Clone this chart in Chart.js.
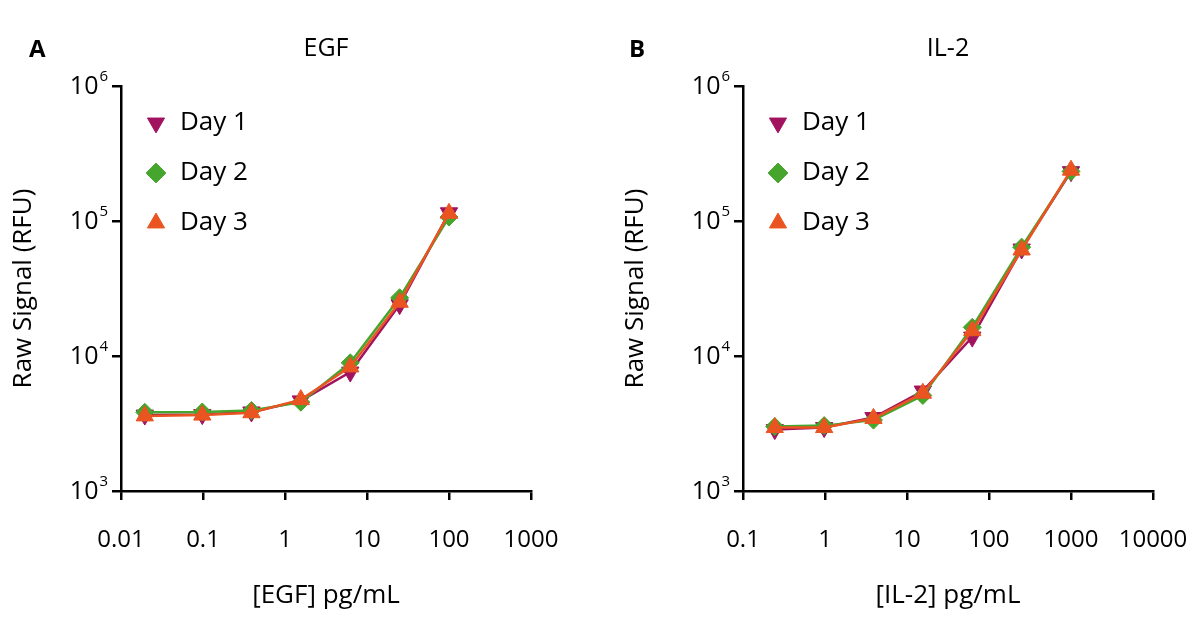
<!DOCTYPE html>
<html lang="en">
<head>
    <meta charset="UTF-8">
    <title>EGF / IL-2 standard curves</title>
    <script src="https://cdn.jsdelivr.net/npm/chart.js"></script>
    <style>
        body { margin: 0; background: #fff; font-family: "Open Sans", sans-serif; }
        .panel { position: absolute; top: 0; width: 600px; height: 642px; }
        .letter { position: absolute; top: 31px; font-weight: bold; font-size: 24px; color: #000; }
        .title { position: absolute; top: 29px; font-size: 25px; color: #000; transform: translateX(-50%); }
    </style>
</head>
<body>
    <div class="panel" style="left:0">
        <canvas id="chartA" width="600" height="642"></canvas>
        <div class="letter" style="left:29px">A</div>
        <div class="title" style="left:326px">EGF</div>
    </div>
    <div class="panel" style="left:600px">
        <canvas id="chartB" width="600" height="642"></canvas>
        <div class="letter" style="left:29px">B</div>
        <div class="title" style="left:348px">IL-2</div>
    </div>

    <script>
    // series labels and colours
    const dayLabels = ['Day 1', 'Day 2', 'Day 3'];
    const dayColors = ['#a1135f', '#46a52c', '#ea5421'];

    // panel A - EGF
    const egfConc = [0.0195, 0.098, 0.39, 1.56, 6.25, 25, 100];
    const egfDay1 = [3650, 3680, 3850, 4650, 7600, 24000, 115000];
    const egfDay2 = [3830, 3850, 3950, 4550, 8900, 27000, 107000];
    const egfDay3 = [3600, 3650, 3800, 4750, 8300, 25000, 114000];
    const egfXTicks = [0.01, 0.1, 1, 10, 100, 1000];

    // panel B - IL-2
    const il2Conc = [0.244, 0.977, 3.9, 15.6, 62.5, 250, 1000];
    const il2Day1 = [2850, 2950, 3500, 5500, 13800, 62000, 232000];
    const il2Day2 = [3000, 3050, 3350, 5100, 16300, 64000, 233000];
    const il2Day3 = [2950, 2950, 3450, 5300, 15400, 61000, 238000];
    const il2XTicks = [0.1, 1, 10, 100, 1000, 10000];

    const yTicks = [1e3, 1e4, 1e5, 1e6];

    const markerStyles = [
        {pointStyle: 'triangle', rotation: 180},
        {pointStyle: 'rectRot', rotation: 0},
        {pointStyle: 'triangle', rotation: 0}
    ];

    function makeDatasets(xs, series) {
        return series.map(function (ys, i) {
            return {
                label: dayLabels[i],
                data: xs.map(function (x, j) { return {x: x, y: ys[j]}; }),
                borderColor: dayColors[i],
                backgroundColor: dayColors[i],
                pointBackgroundColor: dayColors[i],
                pointBorderColor: dayColors[i],
                borderWidth: 2.5,
                pointBorderWidth: 1,
                pointRadius: i === 1 ? 9 : 10,
                pointStyle: markerStyles[i].pointStyle,
                pointRotation: markerStyles[i].rotation,
                order: 3 - i,
                clip: false
            };
        });
    }

    // legend sits inside the plot, but chartArea legends get top = 0, so pin it
    const legendInside = {
        id: 'legendInside',
        beforeDraw(chart) {
            const lg = chart.legend;
            const h = lg.bottom - lg.top;
            lg.top = chart.chartArea.top;
            lg.bottom = lg.top + h;
        }
    };

    // draws 10 with a superscript exponent for each y tick
    const powerLabels = {
        id: 'powerLabels',
        afterDraw(chart) {
            const ctx = chart.ctx;
            const y = chart.scales.y;
            ctx.save();
            ctx.fillStyle = '#000';
            ctx.textBaseline = 'middle';
            y.ticks.forEach(function (t) {
                const py = y.getPixelForValue(t.value);
                const exp = String(Math.round(Math.log10(t.value)));
                ctx.font = '15px "Open Sans"';
                const ew = ctx.measureText(exp).width;
                const right = y.right - 13;
                ctx.fillText(exp, right - ew, py - 9);
                ctx.font = '25px "Open Sans"';
                const bw = ctx.measureText('10').width;
                ctx.fillText('10', right - ew - bw - 1, py + 1);
            });
            ctx.restore();
        }
    };

    function makeChart(id, xs, series, xMin, xMax, xTicks, xTitle, leftPad, titlePad) {
        const ctx = document.getElementById(id).getContext('2d');
        const axisLeft = 121 + leftPad;
        return new Chart(ctx, {
            type: 'line',
            data: {datasets: makeDatasets(xs, series)},
            plugins: [legendInside, powerLabels],
            options: {
                responsive: false,
                animation: false,
                layout: {padding: {left: 0, right: 600 - axisLeft - 410, top: 86, bottom: 0}},
                plugins: {
                    tooltip: {enabled: false},
                    legend: {
                        position: 'chartArea',
                        align: 'start',
                        labels: {
                            usePointStyle: true,
                            boxWidth: 22,
                            boxHeight: 14,
                            padding: 24,
                            color: '#000',
                            font: {family: 'Open Sans', size: 26},
                            sort: function (a, b) { return a.datasetIndex - b.datasetIndex; }
                        }
                    }
                },
                scales: {
                    x: {
                        type: 'logarithmic',
                        min: xMin,
                        max: xMax,
                        afterBuildTicks: function (scale) {
                            scale.ticks = xTicks.map(function (v) { return {value: v}; });
                        },
                        afterFit: function (scale) { scale.height = 151; },
                        border: {display: true, color: '#000', width: 2.5},
                        grid: {drawOnChartArea: false, color: '#000', lineWidth: 2.5, tickLength: 9},
                        ticks: {
                            color: '#000',
                            padding: 11,
                            maxRotation: 0,
                            autoSkip: false,
                            font: {family: 'Open Sans', size: 24, lineHeight: 2.4},
                            callback: function (v) { return String(v); }
                        },
                        title: {
                            display: true,
                            text: xTitle,
                            color: '#000',
                            font: {family: 'Open Sans', size: 26},
                            padding: {top: 0, bottom: 31}
                        }
                    },
                    y: {
                        type: 'logarithmic',
                        min: 1e3,
                        max: 1e6,
                        afterBuildTicks: function (scale) {
                            scale.ticks = yTicks.map(function (v) { return {value: v}; });
                        },
                        afterFit: function (scale) { scale.width = axisLeft; },
                        border: {display: true, color: '#000', width: 2.5},
                        grid: {drawOnChartArea: false, color: '#000', lineWidth: 2.5, tickLength: 9},
                        ticks: {display: false},
                        title: {
                            display: true,
                            text: 'Raw Signal (RFU)',
                            color: '#000',
                            font: {family: 'Open Sans', size: 26},
                            padding: {top: titlePad, bottom: 0}
                        }
                    }
                }
            }
        });
    }

    makeChart('chartA', egfConc, [egfDay1, egfDay2, egfDay3], 0.01, 1000, egfXTicks, '[EGF] pg/mL', 0, 8);
    makeChart('chartB', il2Conc, [il2Day1, il2Day2, il2Day3], 0.1, 10000, il2XTicks, '[IL-2] pg/mL', 22, 20);
    </script>
</body>
</html>
